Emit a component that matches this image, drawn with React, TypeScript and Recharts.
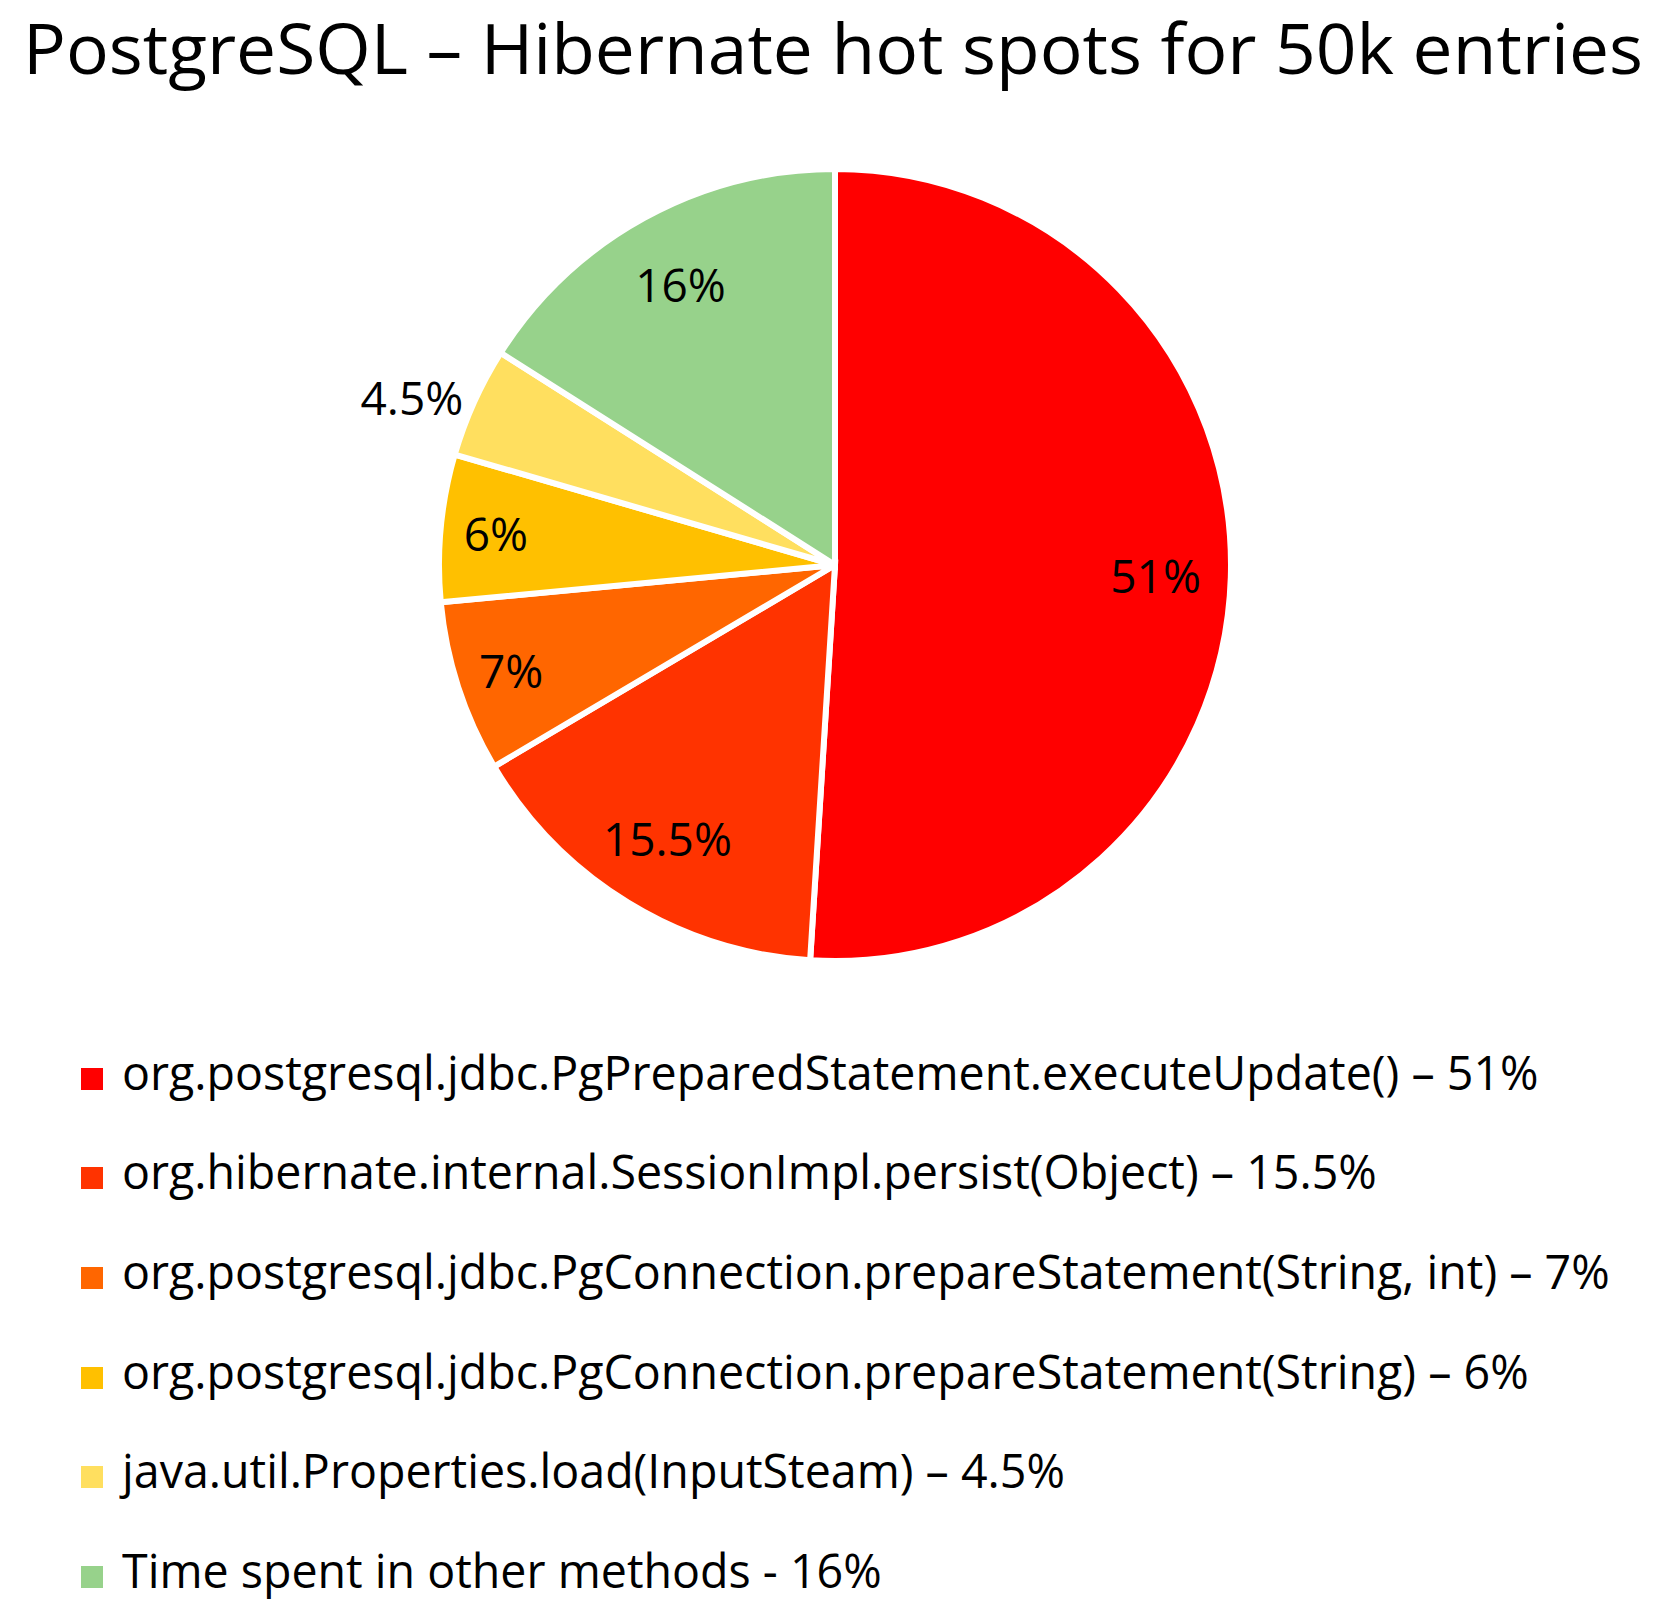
import React from "react";
import { PieChart, Pie, Cell, Legend } from "recharts";

if (typeof document !== "undefined") document.body.style.margin = "0";

const methods = [
  "org.postgresql.jdbc.PgPreparedStatement.executeUpdate()",
  "org.hibernate.internal.SessionImpl.persist(Object)",
  "org.postgresql.jdbc.PgConnection.prepareStatement(String, int)",
  "org.postgresql.jdbc.PgConnection.prepareStatement(String)",
  "java.util.Properties.load(InputSteam)",
  "Time spent in other methods",
];
const shares = [51, 15.5, 7, 6, 4.5, 16];
const separators = ["–", "–", "–", "–", "–", "-"];
const sliceColors = ["#FF0000", "#FF3300", "#FF6600", "#FFC000", "#FFDF5F", "#97D28B"];

const data = methods.map((m, i) => ({
  name: `${m} ${separators[i]} ${shares[i]}%`,
  value: shares[i],
}));

const FONT = "'Open Sans', 'Noto Sans', sans-serif";
const RAD = Math.PI / 180;

// Excel "best fit": tiny slice label goes outside, narrow ones sit nearer the rim
const renderLabel = (p: any) => {
  const { cx, cy, midAngle, outerRadius, value, percent } = p;
  const outside = percent < 0.05;
  const k = outside ? 1.03 : percent < 0.1 ? 0.86 : 0.81;
  const x = cx + outerRadius * k * Math.cos(-midAngle * RAD);
  const y = cy + outerRadius * k * Math.sin(-midAngle * RAD);
  const anchor = outside ? (x < cx ? "end" : "start") : "middle";
  return (
    <text
      x={x}
      y={y}
      fill="#000"
      fontSize={46}
      fontFamily={FONT}
      textAnchor={anchor}
      dominantBaseline="central"
    >
      {`${value}%`}
    </text>
  );
};

// legend keeps the data order (recharts would sort it by name otherwise)
const renderLegend = () => (
  <div style={{ fontFamily: FONT }}>
    {data.map((d, i) => (
      <div key={i} style={{ height: 99.6, display: "flex", alignItems: "center" }}>
        <span
          style={{
            display: "inline-block",
            width: 22,
            height: 22,
            marginLeft: 81,
            position: "relative",
            top: 7,
            background: sliceColors[i],
          }}
        />
        <span
          style={{
            marginLeft: 19,
            fontSize: 48,
            lineHeight: 1,
            color: "#000",
            whiteSpace: "nowrap",
            display: "inline-block",
            transform: "scaleX(0.97)",
            transformOrigin: "left center",
          }}
        >
          {d.name}
        </span>
      </div>
    ))}
  </div>
);

export default function App() {
  return (
    <div style={{ position: "relative", width: 1665, height: 1619, background: "#fff" }}>
      <svg
        width={1665}
        height={120}
        style={{ position: "absolute", left: 0, top: 0 }}
      >
        <text
          x={23}
          y={74}
          fontSize={70}
          fontFamily={FONT}
          fill="#000"
          textLength={1620}
          lengthAdjust="spacingAndGlyphs"
        >
          PostgreSQL – Hibernate hot spots for 50k entries
        </text>
      </svg>
      <PieChart width={1665} height={1619}>
        <Pie
          data={data}
          dataKey="value"
          nameKey="name"
          cx={830}
          cy={560}
          outerRadius={396}
          startAngle={90}
          endAngle={-270}
          stroke="#fff"
          strokeWidth={6}
          label={renderLabel}
          labelLine={false}
          isAnimationActive={false}
        >
          {data.map((_, i) => (
            <Cell key={i} fill={sliceColors[i]} />
          ))}
        </Pie>
        <Legend
          content={renderLegend}
          wrapperStyle={{ left: 0, top: 1022, width: 1665 }}
        />
      </PieChart>
    </div>
  );
}
